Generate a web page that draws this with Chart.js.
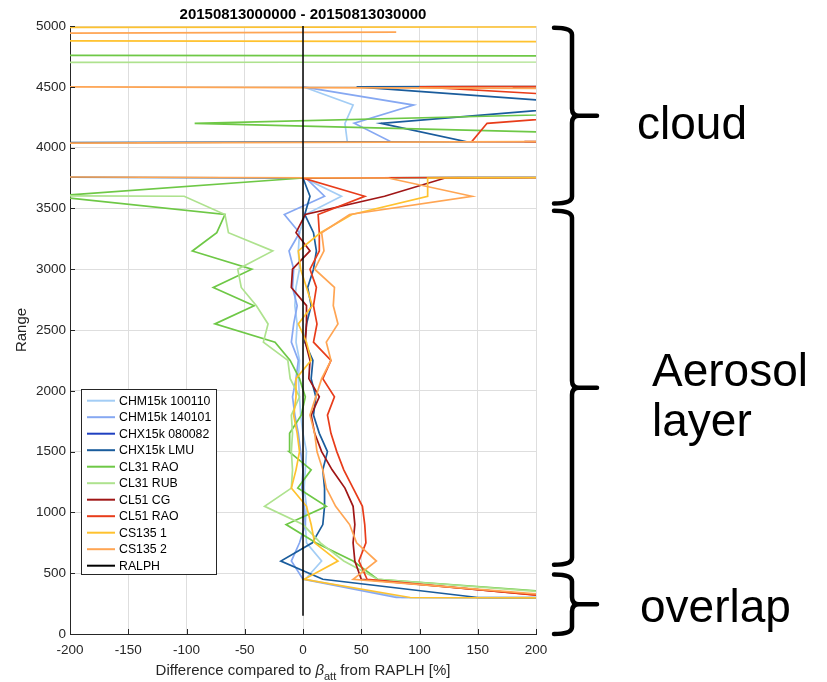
<!DOCTYPE html>
<html lang="en">
<head>
<meta charset="UTF-8">
<title>20150813000000 - 20150813030000</title>
<script src="https://cdn.jsdelivr.net/npm/chart.js"></script>
<style>
  html, body { margin: 0; padding: 0; background: #fff; }
</style>
</head>
<body>
<canvas id="perfil" width="827" height="682"></canvas>

<script>
// Range levels (m) of the profiles
const RANGE = [150, 300, 450, 600, 750, 900, 1050, 1200, 1350, 1500, 1650, 1800, 1950, 2100, 2250,
               2400, 2550, 2700, 2850, 3000, 3150, 3300, 3450, 3600, 3750, 3900, 4050, 4200, 4350,
               4500, 4650, 4800, 4950, 5100];

// Difference to RALPH [%] per level (values far out of the axis are saturated cloud values)
const CHM15k_100110 = [5000, 85, 2, 16, 3, 2, 3, 1, 2, 3, 0, -2, -3, -4, -3, -6, -5, -7, -6, -3, -4, -3, 2, 33, 1,
                       5000, 38, 36, 43, 0, null, null, null, null];
const CHM15k_140101 = [5000, 80, 0, -10, -3, 2, 1, -1, 0, -2, -4, -7, -9, -6, -4, -10, -8, -5, -9, -8, -12, -3, -16, 18.5, 2.5,
                       5000, 75, 44, 95, 0, null, null, null, null];
const CHX15k_080082 = []; // no valid profile in this period
const CHX15k_LMU    = [5000, 150, 17, -19, 8, 17, 18.5, 18.5, 17, 21, 14, 9, 11, 7, 8.5, 1.5, 3, 7, 4, 9, 11.5, 9, 1.5, 6, 0,
                       -5000, 139, 67, 260, 46, 5000, 5000, 5000, 5000];
const CL31_RAO      = [5000, 280, 64, 43, 11, -14.5, 20, -4.5, 7, -12, -11.5, -1.5, 2, -3, -11, -24, -75.6, -42, -77, -44, -95, -74, -67, -215, 0,
                       5000, 535, -93, 553, 5000, 12000, -5000, -5000, -5000];
const CL31_RUB      = [5000, 270, 64, 35, 15, 0, -33, -10, -9, -10, -9, -10, -3, -11, -13, -34, -30, -40, -53, -56, -26, -64, -67, -102, -5000,
                       -5000, -5000, -5000, -5000, -5000, -7000, 13000, 13000, 13000];
const CL51_CG       = [5000, 225, 50, 44.5, 43, 44.5, 43, 36, 25, 16, 10, 7, 14, 5, 6, 2, 3, 3, -10, -9, 6, -6, 2, 70, 122,
                       5000, 190, 5000, 5000, 180, 5000, 5000, 5000, 5000];
const CL51_RAO      = [5000, 222, 55, 48, 54, 53, 51, 43, 35, 29, 24, 21, 27, 17, 24, 9, 12, 9, 11.5, 6, 14, 14, 13, 53, 0,
                       5000, 145, 158, 373, 100, 5000, 5000, 5000, 5000];
const CS135_1       = [5000, 92, 1, 30, 10, 7, 3, -10, -6, -3, -5, -8, -6, -6, 7, 3, -4, 8, 3, -2, -4, 15, 42, 107, 107,
                       5000, 5000, 5000, 5000, 5000, 5000, 5000, -5000, 13750];
const CS135_2       = [5000, 240, 43, 63, 46, 40, 28, 20, 17, 12, 10, 6, 11, 16, 24, 20, 30, 26, 27, 10, 18, 16, 40, 145, 73,
                       -5000, 250, 5000, 5000, -250, -5000, -5000, 80, null];
const RALPH         = [0, 0, 0, 0, 0, 0, 0, 0, 0, 0, 0, 0, 0, 0, 0, 0, 0, 0, 0, 0, 0, 0, 0, 0, 0,
                       0, 0, 0, 0, 0, 0, 0, 0, 0];

const X_TICKS = [-200, -150, -100, -50, 0, 50, 100, 150, 200];
const Y_TICKS = [0, 500, 1000, 1500, 2000, 2500, 3000, 3500, 4000, 4500, 5000];

// Height regions marked on the right side (m)
const REGIOES = [
  { de: 3540, ate: 4985, texto: ['cloud'] },
  { de: 570,  ate: 3480, texto: ['Aerosol', 'layer'] },
  { de: 0,    ate: 490,  texto: ['overlap'] }
];

const SERIES = [
  ['CHM15k 100110', CHM15k_100110, '#a3cdf5'],
  ['CHM15k 140101', CHM15k_140101, '#86a8f2'],
  ['CHX15k 080082', CHX15k_080082, '#1f40c0'],
  ['CHX15k LMU',    CHX15k_LMU,    '#1a5c9c'],
  ['CL31 RAO',      CL31_RAO,      '#6ec846'],
  ['CL31 RUB',      CL31_RUB,      '#aee28e'],
  ['CL51 CG',       CL51_CG,       '#a01616'],
  ['CL51 RAO',      CL51_RAO,      '#e83c1a'],
  ['CS135 1',       CS135_1,       '#ffc22e'],
  ['CS135 2',       CS135_2,       '#ffa553'],
  ['RALPH',         RALPH,         '#000000']
];

const FONTE = '"Liberation Sans", Arial, Helvetica, sans-serif';
Chart.defaults.font.family = FONTE;

const datasets = SERIES.map(function ([label, valores, cor], i) {
  const pontos = [];
  valores.forEach(function (v, k) {
    if (v !== null && v !== undefined) pontos.push({ x: v, y: RANGE[k] });
  });
  return {
    label: label,
    data: pontos,
    borderColor: cor,
    backgroundColor: cor,
    borderWidth: label === 'RALPH' ? 1.5 : 1.7,
    showLine: true,
    pointRadius: 0,
    pointHoverRadius: 0,
    order: SERIES.length - i // later series on top, as in the original
  };
});

function chave(ctx, x0, x1, xt, yTop, yBot) {
  const yMid = (yTop + yBot) / 2, r = 7;
  ctx.beginPath();
  ctx.moveTo(x0, yTop);
  ctx.quadraticCurveTo(x1, yTop, x1, yTop + r);
  ctx.lineTo(x1, yMid - r);
  ctx.quadraticCurveTo(x1, yMid, x1 + r, yMid);
  ctx.lineTo(xt, yMid);
  ctx.moveTo(x1 + r, yMid);
  ctx.quadraticCurveTo(x1, yMid, x1, yMid + r);
  ctx.lineTo(x1, yBot - r);
  ctx.quadraticCurveTo(x1, yBot, x0, yBot);
  ctx.stroke();
}

const decoracao = {
  id: 'decoracao',
  afterDraw(chart) {
    const ctx = chart.ctx;
    const sx = chart.scales.x, sy = chart.scales.y;
    const area = chart.chartArea;
    const cx = (area.left + area.right) / 2;
    ctx.save();

    // inward tick marks
    ctx.strokeStyle = '#262626';
    ctx.lineWidth = 1;
    ctx.beginPath();
    Y_TICKS.forEach(function (t) {
      const py = Math.round(sy.getPixelForValue(t)) + 0.5;
      ctx.moveTo(area.left, py); ctx.lineTo(area.left + 5, py);
    });
    X_TICKS.forEach(function (t) {
      const px = Math.round(sx.getPixelForValue(t)) + 0.5;
      ctx.moveTo(px, area.bottom); ctx.lineTo(px, area.bottom - 5);
    });
    ctx.stroke();

    // title
    ctx.fillStyle = '#000';
    ctx.textAlign = 'center';
    ctx.textBaseline = 'alphabetic';
    ctx.font = 'bold 15px ' + FONTE;
    ctx.fillText('20150813000000 - 20150813030000', cx, 19);

    // y title
    ctx.fillStyle = '#262626';
    ctx.font = '15px ' + FONTE;
    ctx.save();
    ctx.translate(26, (area.top + area.bottom) / 2);
    ctx.rotate(-Math.PI / 2);
    ctx.fillText('Range', 0, 0);
    ctx.restore();

    // x title with subscript
    const partes = [
      ['Difference compared to ', '15px ' + FONTE, 0],
      ['\u03B2', 'italic 15px ' + FONTE, 0],
      ['att', '11px ' + FONTE, 5],
      [' from RAPLH [%]', '15px ' + FONTE, 0]
    ];
    let total = 0;
    partes.forEach(function (p) { ctx.font = p[1]; total += ctx.measureText(p[0]).width; });
    let xx = cx - total / 2;
    ctx.textAlign = 'left';
    partes.forEach(function (p) {
      ctx.font = p[1];
      ctx.fillText(p[0], xx, 675 + p[2]);
      xx += ctx.measureText(p[0]).width;
    });

    // legend inside the axes
    const lx = 81, ly = 389, lw = 135, passo = 16.5;
    const lh = 185;
    ctx.fillStyle = '#fff';
    ctx.fillRect(lx, ly, lw, lh);
    ctx.strokeStyle = '#262626';
    ctx.lineWidth = 1;
    ctx.strokeRect(lx + 0.5, ly + 0.5, lw, lh);
    ctx.font = '12.3px ' + FONTE;
    ctx.textBaseline = 'middle';
    chart.data.datasets.forEach(function (ds, i) {
      const yy = ly + 11.7 + i * passo;
      ctx.strokeStyle = ds.borderColor;
      ctx.lineWidth = 2;
      ctx.beginPath();
      ctx.moveTo(lx + 6, yy); ctx.lineTo(lx + 34, yy);
      ctx.stroke();
      ctx.fillStyle = '#000';
      ctx.fillText(ds.label, lx + 38, yy + 0.5);
    });

    // braces and region names
    ctx.strokeStyle = '#000';
    ctx.lineWidth = 4.5;
    ctx.lineCap = 'round';
    ctx.lineJoin = 'round';
    ctx.fillStyle = '#000';
    ctx.font = '46px ' + FONTE;
    ctx.textBaseline = 'alphabetic';
    const base = [[139], [386, 436], [622]];
    const inicio = [637, 652, 640];
    REGIOES.forEach(function (r, i) {
      const yTop = sy.getPixelForValue(r.ate);
      const yBot = sy.getPixelForValue(r.de);
      chave(ctx, area.right + 18, area.right + 36, area.right + 61, yTop, yBot);
      r.texto.forEach(function (t, j) { ctx.fillText(t, inicio[i], base[i][j]); });
    });

    ctx.restore();
  }
};

new Chart(document.getElementById('perfil'), {
  type: 'scatter',
  data: { datasets: datasets },
  options: {
    responsive: false,
    animation: false,
    devicePixelRatio: 1,
    layout: { padding: { top: 26, right: 291, bottom: 0, left: 0 } },
    plugins: {
      legend: { display: false },
      tooltip: { enabled: false },
      title: { display: false }
    },
    scales: {
      x: {
        type: 'linear',
        min: -200,
        max: 200,
        afterFit: function (s) { s.height = 48; },
        afterBuildTicks: function (s) { s.ticks = X_TICKS.map(v => ({ value: v })); },
        grid: { color: '#dedede', drawTicks: false },
        border: { display: true, color: '#262626', width: 1 },
        ticks: { color: '#262626', font: { size: 13.5 }, padding: 8, maxRotation: 0,
                 callback: function (v) { return String(v); } }
      },
      y: {
        type: 'linear',
        min: 0,
        max: 5000,
        afterFit: function (s) { s.width = 70; },
        afterBuildTicks: function (s) { s.ticks = Y_TICKS.map(v => ({ value: v })); },
        grid: { color: '#dedede', drawTicks: false },
        border: { display: true, color: '#262626', width: 1 },
        ticks: { color: '#262626', font: { size: 13.5 }, padding: 4,
                 callback: function (v) { return String(v); } }
      }
    }
  },
  plugins: [decoracao]
});
</script>
</body>
</html>
